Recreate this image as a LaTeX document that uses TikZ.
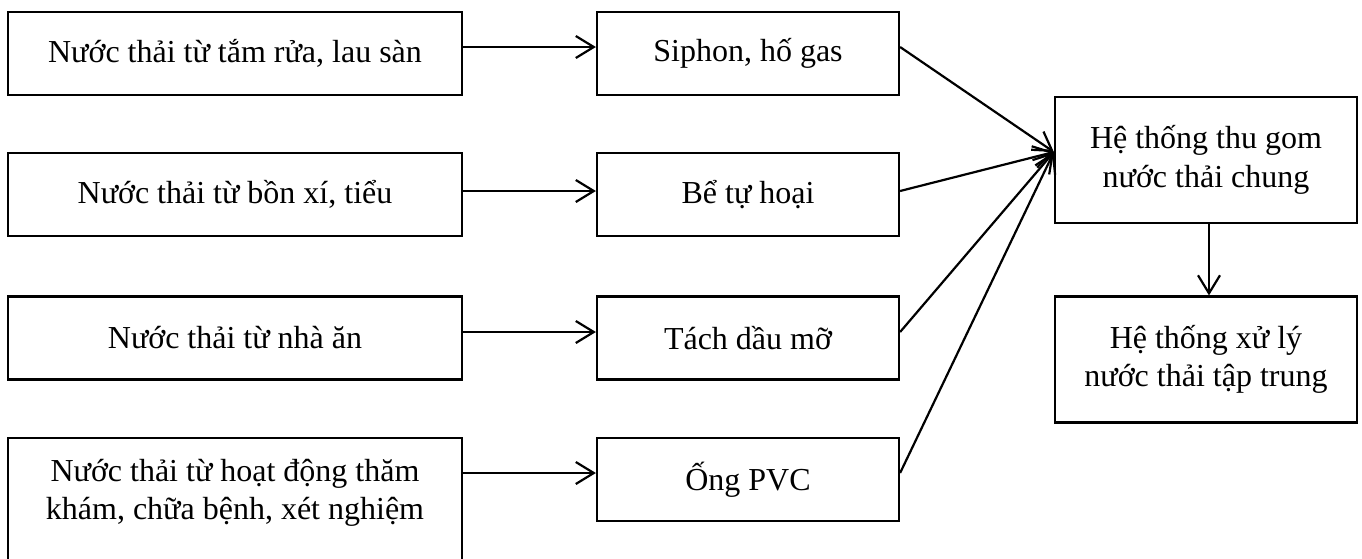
\documentclass[tikz,border=0pt]{standalone}
\usepackage{fontspec}
\setmainfont{Liberation Serif}
\usetikzlibrary{arrows.meta}
\begin{document}
\begin{tikzpicture}[x=0.5pt,y=-0.5pt,
  txt/.style={align=center, inner sep=0pt, font=\fontsize{16}{19.25}\selectfont},
  box/.style={txt, draw, line width=1.1pt},
  lbox/.style={box, minimum width=227pt, minimum height=41.5pt},
  mbox/.style={box, minimum width=151pt, minimum height=41.5pt},
  rbox/.style={box, minimum width=151pt, minimum height=63pt},
  arr/.style={line width=1.1pt, -{Straight Barb[length=9pt,width=11pt,line width=1.1pt]}}]
\useasboundingbox (0,0) rectangle (1362,558);
% left column
\node[lbox] (L1) at (235,53.5) {Nước thải từ tắm rửa, lau sàn};
\node[lbox] (L2) at (235,194.5) {Nước thải từ bồn xí, tiểu};
\node[lbox] (L3) at (235,338) {Nước thải từ nhà ăn};
\node[lbox, minimum height=66pt] (L4) at (235,504) {};
\node[txt] (L4t) at ([yshift=5.5pt]L4.center) {Nước thải từ hoạt động thăm\\khám, chữa bệnh, xét nghiệm};
% middle column
\node[mbox] (M1) at (748,53.5) {Siphon, hố gas};
\node[mbox] (M2) at (748,194.5) {Bể tự hoại};
\node[mbox] (M3) at (748,338) {Tách dầu mỡ};
\node[mbox] (M4) at (748,479.5) {Ống PVC};
% right column
\node[rbox] (R1) at (1206,160) {Hệ thống thu gom\\nước thải chung};
\node[rbox] (R2) at (1206,359.5) {Hệ thống xử lý\\nước thải tập trung};
% connectors
\coordinate (m1in) at ([yshift=3.25pt]M1.west);
\coordinate (m2in) at ([yshift=1.75pt]M2.west);
\coordinate (m3in) at ([yshift=3pt]M3.west);
\coordinate (m4in) at ([yshift=3.25pt]M4.west);
\draw[arr] (m1in -| L1.east) -- (m1in);
\draw[arr] (m2in -| L2.east) -- (m2in);
\draw[arr] (m3in -| L3.east) -- (m3in);
\draw[arr] (m4in -| L4.east) -- (m4in);
\coordinate (rin) at ([yshift=4pt]R1.west);
\draw[arr] ([yshift=3.25pt]M1.east) -- (rin);
\draw[arr] ([yshift=1.75pt]M2.east) -- (rin);
\draw[arr] ([yshift=3pt]M3.east) -- (rin);
\draw[arr] ([yshift=3.25pt]M4.east) -- (rin);
\draw[arr] ([xshift=1.5pt]R1.south) -- ([xshift=1.5pt]R2.north);
\end{tikzpicture}
\end{document}
